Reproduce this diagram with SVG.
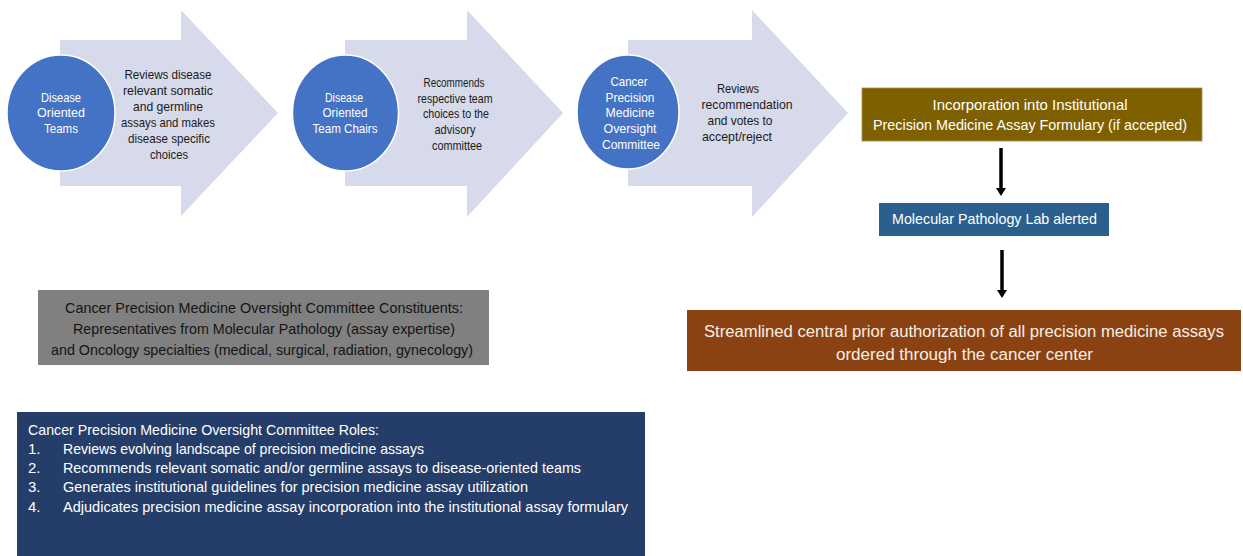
<svg xmlns="http://www.w3.org/2000/svg" width="1243" height="556" viewBox="0 0 1243 556">
<defs>
<style>
text{font-family:"Liberation Sans",Arial,sans-serif;}
.arr{fill:#D6DAEA;}
.circ{fill:#4472C4;stroke:#FFFFFF;stroke-width:1.5;}
.ct{fill:#FFFFFF;font-size:13px;text-anchor:middle;}
.at{fill:#1A1A1A;font-size:13px;text-anchor:middle;}
.wt{fill:#FFFFFF;font-size:14.5px;text-anchor:middle;}
.bt{fill:#F7EFE6;font-size:16px;text-anchor:middle;}
.gt{fill:#141414;font-size:15px;text-anchor:middle;}
.nt{fill:#FFFFFF;font-size:15px;}
.conn{stroke:#000000;stroke-width:3.5;fill:none;}
</style>
</defs>
<rect width="1243" height="556" fill="#FFFFFF"/>

<g id="step1">
<path class="arr" d="M60,40 H181 V10 L278,113 L181,216 V186 H60 Z"/>
<ellipse class="circ" cx="61" cy="113" rx="54" ry="58"/>
<text class="ct" x="61" y="102" textLength="40" lengthAdjust="spacingAndGlyphs">Disease</text>
<text class="ct" x="61" y="117" textLength="48" lengthAdjust="spacingAndGlyphs">Oriented</text>
<text class="ct" x="61" y="133" textLength="34" lengthAdjust="spacingAndGlyphs">Teams</text>
<text class="at" x="168" y="79" textLength="87" lengthAdjust="spacingAndGlyphs">Reviews disease</text>
<text class="at" x="168" y="95" textLength="90" lengthAdjust="spacingAndGlyphs">relevant somatic</text>
<text class="at" x="168" y="111" textLength="70" lengthAdjust="spacingAndGlyphs">and germline</text>
<text class="at" x="168" y="127" textLength="94" lengthAdjust="spacingAndGlyphs">assays and makes</text>
<text class="at" x="169" y="143" textLength="82" lengthAdjust="spacingAndGlyphs">disease specific</text>
<text class="at" x="169" y="159" textLength="38" lengthAdjust="spacingAndGlyphs">choices</text>
</g>

<g id="step2">
<path class="arr" d="M345,40 H467 V10 L563,113 L467,217 V186 H345 Z"/>
<ellipse class="circ" cx="345.5" cy="113" rx="53" ry="58"/>
<text class="ct" x="344" y="102" textLength="38" lengthAdjust="spacingAndGlyphs">Disease</text>
<text class="ct" x="345" y="117" textLength="45" lengthAdjust="spacingAndGlyphs">Oriented</text>
<text class="ct" x="345" y="133" textLength="65" lengthAdjust="spacingAndGlyphs">Team Chairs</text>
<text class="at" x="454" y="87" textLength="61" lengthAdjust="spacingAndGlyphs">Recommends</text>
<text class="at" x="455" y="103" textLength="75" lengthAdjust="spacingAndGlyphs">respective team</text>
<text class="at" x="456" y="118" textLength="66" lengthAdjust="spacingAndGlyphs">choices to the</text>
<text class="at" x="455" y="134" textLength="41" lengthAdjust="spacingAndGlyphs">advisory</text>
<text class="at" x="457" y="150" textLength="50" lengthAdjust="spacingAndGlyphs">committee</text>
</g>

<g id="step3">
<path class="arr" d="M628,40 H752 V10 L848,113 L752,217 V186 H628 Z"/>
<ellipse class="circ" cx="628" cy="112" rx="51" ry="57"/>
<text class="ct" x="629" y="86" textLength="37" lengthAdjust="spacingAndGlyphs">Cancer</text>
<text class="ct" x="630" y="102" textLength="49" lengthAdjust="spacingAndGlyphs">Precision</text>
<text class="ct" x="630" y="117" textLength="49" lengthAdjust="spacingAndGlyphs">Medicine</text>
<text class="ct" x="630" y="133" textLength="53" lengthAdjust="spacingAndGlyphs">Oversight</text>
<text class="ct" x="631" y="149" textLength="58" lengthAdjust="spacingAndGlyphs">Committee</text>
<text class="at" x="738" y="93" textLength="42" lengthAdjust="spacingAndGlyphs">Reviews</text>
<text class="at" x="747" y="109" textLength="91" lengthAdjust="spacingAndGlyphs">recommendation</text>
<text class="at" x="740" y="125" textLength="65" lengthAdjust="spacingAndGlyphs">and votes to</text>
<text class="at" x="737" y="141" textLength="70" lengthAdjust="spacingAndGlyphs">accept/reject</text>
</g>

<g id="formulary">
<rect x="862" y="88" width="340" height="53" fill="#7F6000" stroke="#A89050" stroke-width="0.8"/>
<text class="wt" x="1030" y="110" fill="#F3EEDC" textLength="195" lengthAdjust="spacingAndGlyphs">Incorporation into Institutional</text>
<text class="wt" x="1030" y="130" fill="#F3EEDC" textLength="314" lengthAdjust="spacingAndGlyphs">Precision Medicine Assay Formulary (if accepted)</text>
</g>

<g id="lab">
<rect x="879" y="203" width="230" height="33" fill="#2B5F8E"/>
<text class="wt" x="994.5" y="224" textLength="205" lengthAdjust="spacingAndGlyphs">Molecular Pathology Lab alerted</text>
</g>

<g id="authorization">
<rect x="687" y="310" width="554" height="61" fill="#8B4212"/>
<text class="bt" x="964" y="337" textLength="520" lengthAdjust="spacingAndGlyphs">Streamlined central prior authorization of all precision medicine assays</text>
<text class="bt" x="964.5" y="360" textLength="257" lengthAdjust="spacingAndGlyphs">ordered through the cancer center</text>
</g>

<g id="constituents">
<rect x="38" y="290" width="451" height="75" fill="#808080"/>
<text class="gt" x="264" y="313" textLength="398" lengthAdjust="spacingAndGlyphs">Cancer Precision Medicine Oversight Committee  Constituents:</text>
<text class="gt" x="264" y="334" textLength="382" lengthAdjust="spacingAndGlyphs">Representatives from Molecular Pathology (assay expertise)</text>
<text class="gt" x="262" y="355" textLength="422" lengthAdjust="spacingAndGlyphs">and Oncology specialties (medical, surgical, radiation, gynecology)</text>
</g>

<g id="roles">
<rect x="17" y="412" width="628" height="144" fill="#243D69"/>
<text class="nt" x="28" y="435" textLength="351" lengthAdjust="spacingAndGlyphs">Cancer Precision Medicine Oversight Committee Roles:</text>
<text class="nt" x="28" y="454">1.</text>
<text class="nt" x="63" y="454" textLength="361" lengthAdjust="spacingAndGlyphs">Reviews evolving landscape of precision medicine assays</text>
<text class="nt" x="28" y="473">2.</text>
<text class="nt" x="63" y="473" textLength="518" lengthAdjust="spacingAndGlyphs">Recommends relevant somatic and/or germline assays to disease-oriented teams</text>
<text class="nt" x="28" y="492">3.</text>
<text class="nt" x="63" y="492" textLength="465" lengthAdjust="spacingAndGlyphs">Generates institutional guidelines for precision medicine assay utilization</text>
<text class="nt" x="28" y="512">4.</text>
<text class="nt" x="63" y="512" textLength="565" lengthAdjust="spacingAndGlyphs">Adjudicates precision medicine assay incorporation into the institutional assay formulary</text>
</g>

<g id="connectors">
<path class="conn" d="M1001,148 V189"/>
<path d="M996,188 L1006,188 L1001,196 Z" fill="#000000"/>
<path class="conn" d="M1002,250 V291"/>
<path d="M997,290 L1007,290 L1002,298 Z" fill="#000000"/>
</g>
</svg>
